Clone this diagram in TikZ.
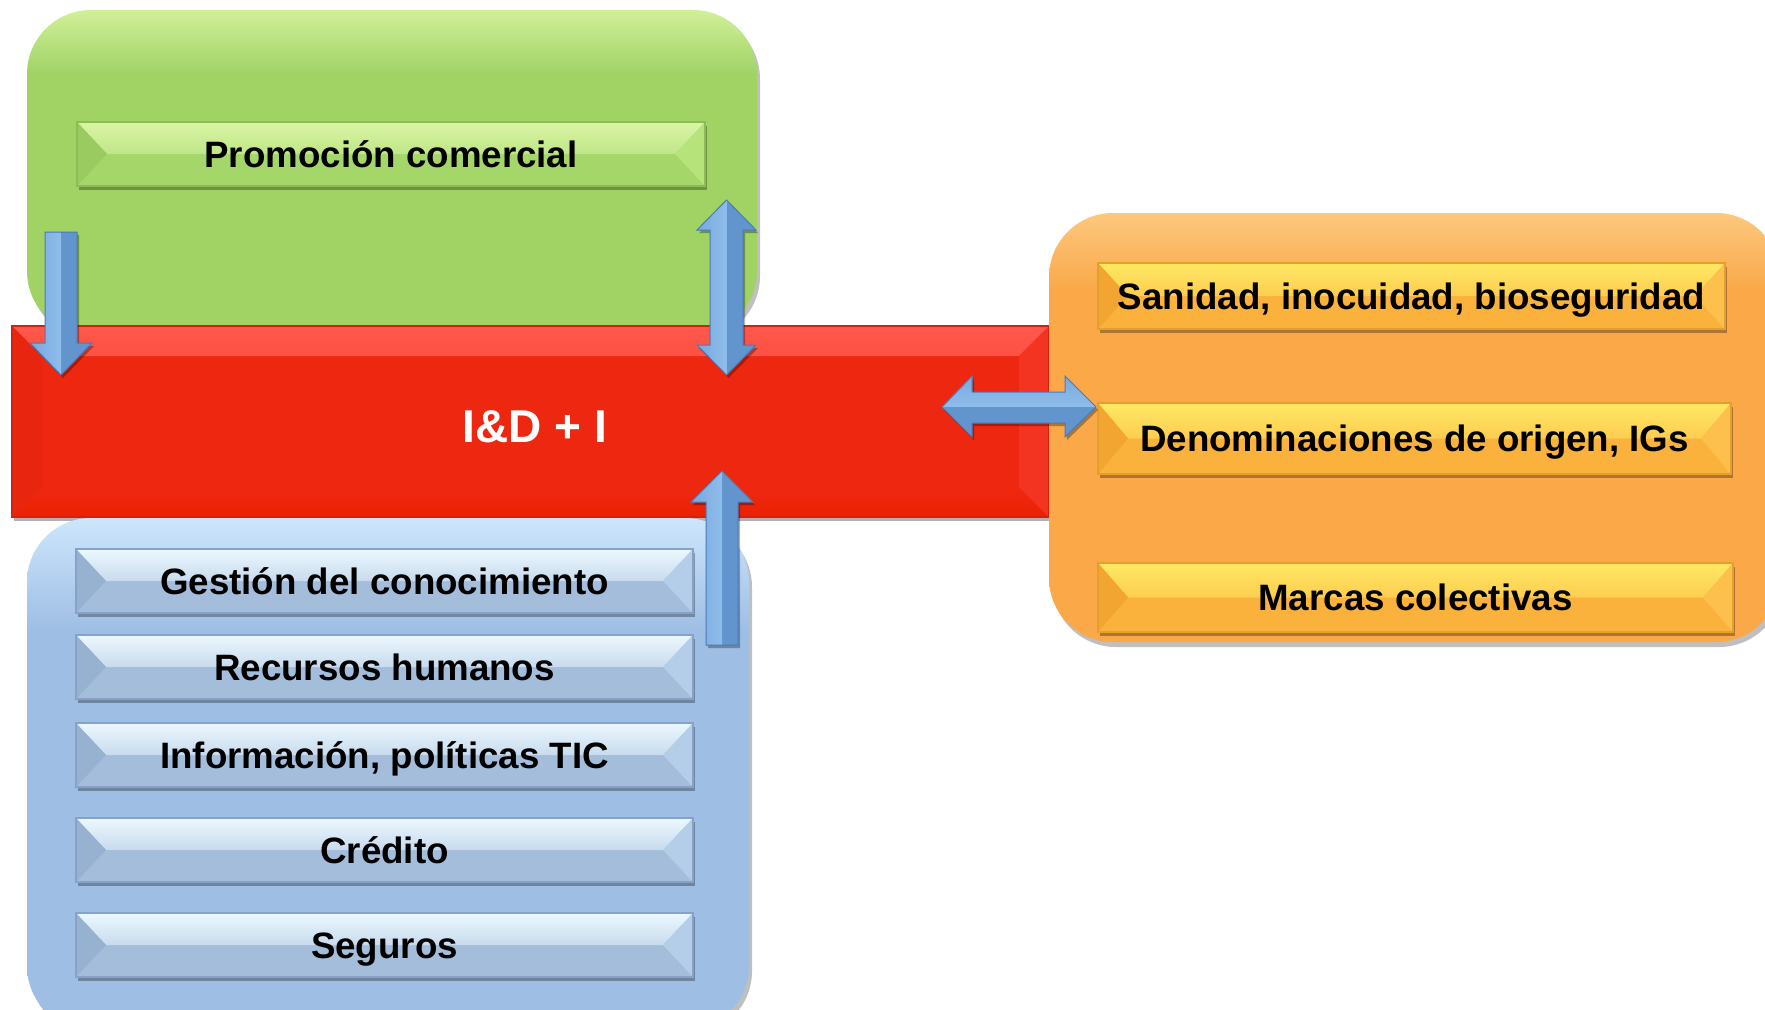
\documentclass[tikz,border=0pt]{standalone}
\usepackage{fontspec}
\setmainfont{Liberation Sans}
\usetikzlibrary{shadows,calc}
% big boxes
\definecolor{gBoxT}{RGB}{208,240,152}
\definecolor{gBox}{RGB}{160,210,100}
\definecolor{bBoxT}{RGB}{205,230,252}
\definecolor{bBox}{RGB}{158,190,228}
\definecolor{oBoxT}{RGB}{253,200,125}
\definecolor{oBox}{RGB}{250,168,72}
% bars
\definecolor{gbarL}{RGB}{218,245,165}
\definecolor{gbarB}{RGB}{165,214,105}
\definecolor{gbarD}{RGB}{153,203,96}
\definecolor{gbarE}{RGB}{182,227,122}
\definecolor{gbarR}{RGB}{140,188,88}
\definecolor{bbarL}{RGB}{236,248,255}
\definecolor{bbarB}{RGB}{163,189,219}
\definecolor{bbarD}{RGB}{151,177,209}
\definecolor{bbarE}{RGB}{180,205,232}
\definecolor{bbarR}{RGB}{135,162,200}
\definecolor{obarL}{RGB}{255,232,100}
\definecolor{obarB}{RGB}{251,178,60}
\definecolor{obarD}{RGB}{243,165,50}
\definecolor{obarE}{RGB}{253,192,76}
\definecolor{obarR}{RGB}{228,160,42}
% red
\definecolor{rT}{RGB}{255,88,76}
\definecolor{rB}{RGB}{238,40,16}
\definecolor{rBot}{RGB}{237,33,2}
\definecolor{rLf}{RGB}{232,38,15}
\definecolor{rRf}{RGB}{243,52,32}
\definecolor{rEdge}{RGB}{215,32,12}
% arrows
\definecolor{aL}{RGB}{165,210,248}
\definecolor{aM}{RGB}{120,168,222}
\definecolor{aD}{RGB}{98,148,206}
\definecolor{aR}{RGB}{75,122,184}
\pgfdeclareverticalshading{gboxsh}{100bp}{color(0bp)=(gBox); color(65bp)=(gBox); color(75bp)=(gBoxT); color(100bp)=(gBoxT)}
\pgfdeclareverticalshading{bboxsh}{100bp}{color(0bp)=(bBox); color(64bp)=(bBox); color(75bp)=(bBoxT); color(100bp)=(bBoxT)}
\pgfdeclareverticalshading{oboxsh}{100bp}{color(0bp)=(oBox); color(66bp)=(oBox); color(75bp)=(oBoxT); color(100bp)=(oBoxT)}
\tikzset{
  bigbox/.style={rounded corners=32pt,
    drop shadow={shadow xshift=1.5pt, shadow yshift=-2.5pt, opacity=0.25, fill=black}},
  barbox/.style={rectangle, inner sep=0pt, fill=#1barB, draw=#1barR, line width=0.6pt,
    drop shadow={shadow xshift=1pt, shadow yshift=-2pt, opacity=0.3, fill=black},
    font=\bfseries\fontsize{18.35}{22}\selectfont, text height=13.2pt, text depth=0pt,
    path picture={
      \fill[top color=#1barL, bottom color=#1barB]
        (path picture bounding box.north west) -- (path picture bounding box.north east)
        -- ($(path picture bounding box.east)+(-30,0)$) -- ($(path picture bounding box.west)+(30,0)$) -- cycle;
      \fill[#1barD] (path picture bounding box.north west) -- ($(path picture bounding box.west)+(30,0)$)
        -- (path picture bounding box.south west) -- cycle;
      \fill[#1barE] (path picture bounding box.north east) -- ($(path picture bounding box.east)+(-30,0)$)
        -- (path picture bounding box.south east) -- cycle;
    }},
  redbox/.style={rectangle, inner sep=0pt, fill=rB, draw=rEdge, line width=0.6pt,
    drop shadow={shadow xshift=1pt, shadow yshift=-2pt, opacity=0.3, fill=black},
    path picture={
      \fill[top color=rT, bottom color=rB]
        (path picture bounding box.north west) -- (path picture bounding box.north east)
        -- ($(path picture bounding box.north east)+(-30,30)$) -- ($(path picture bounding box.north west)+(30,30)$) -- cycle;
      \fill[top color=rB, bottom color=rBot]
        (path picture bounding box.south west) -- (path picture bounding box.south east)
        -- ($(path picture bounding box.south east)+(-30,-30)$) -- ($(path picture bounding box.south west)+(30,-30)$) -- cycle;
      \fill[rLf] (path picture bounding box.north west) -- ($(path picture bounding box.north west)+(30,30)$)
        -- ($(path picture bounding box.south west)+(30,-30)$) -- (path picture bounding box.south west) -- cycle;
      \fill[rRf] (path picture bounding box.north east) -- ($(path picture bounding box.north east)+(-30,30)$)
        -- ($(path picture bounding box.south east)+(-30,-30)$) -- (path picture bounding box.south east) -- cycle;
    }},
  blockarrow/.style={fill=aD, draw=aR, line width=0.5pt, line join=miter,
    drop shadow={shadow xshift=1pt, shadow yshift=-1.5pt, opacity=0.3, fill=black}},
  varrow/.style={blockarrow, path picture={
      \fill[left color=aM, right color=aL] (path picture bounding box.south west) rectangle (path picture bounding box.north);}},
  harrow/.style={blockarrow, path picture={
      \fill[top color=aM, bottom color=aL] (path picture bounding box.north west) rectangle (path picture bounding box.east);}},
}
\begin{document}
\begin{tikzpicture}[x=0.5pt,y=-0.5pt]
\useasboundingbox (0,0) rectangle (1765,1009);
\clip (0,0) rectangle (1765,1009);
% green group
\path[bigbox, shading=gboxsh] (27,10) rectangle (757,335);
\node[barbox=g, minimum width=314pt, minimum height=32pt] (promo) at (391,154) {Promoción comercial};
% red central bar
\node[redbox, minimum width=518.5pt, minimum height=95.5pt] (idi) at (530.5,421.5) {};
\node[text=white, font=\bfseries\fontsize{23}{28}\selectfont, text height=16.5pt, text depth=0pt] (iditxt) at (535,426) {I\&D + I};
% blue group
\path[bigbox, shading=bboxsh] (27,518) rectangle (749,1030);
\node[barbox=b, minimum width=308.5pt, minimum height=32pt] (gest) at (384.5,581) {Gestión del conocimiento};
\node[barbox=b, minimum width=308.5pt, minimum height=32pt] (recu) at (384.5,667) {Recursos humanos};
\node[barbox=b, minimum width=308.5pt, minimum height=32pt] (info) at (384.5,755) {Información, políticas TIC};
\node[barbox=b, minimum width=308.5pt, minimum height=32pt] (cred) at (384.5,850) {Crédito};
\node[barbox=b, minimum width=308.5pt, minimum height=32pt] (segu) at (384.5,945) {Seguros};
% orange group
\path[bigbox, shading=oboxsh] (1049,213) rectangle (1780,642);
\node[barbox=o, minimum width=313.5pt, minimum height=33pt] (sani) at (1411.5,296) {Sanidad, inocuidad, bioseguridad};
\node[barbox=o, minimum width=316.5pt, minimum height=35.5pt] (deno) at (1414.5,438.5) {Denominaciones de origen, IGs};
\node[barbox=o, minimum width=317.5pt, minimum height=34.5pt] (marc) at (1415.5,597.5) {Marcas colectivas};
% block arrows
\path[varrow]
  (45,232) -- (77,232) -- (77,343) -- (92,343) -- (61,375) -- (30,343) -- (45,343) -- cycle;
\path[varrow]
  (710,230) -- (697,230) -- (726.5,200) -- (756,230) -- (743,230) -- (743,345)
  -- (756,345) -- (726.5,375) -- (697,345) -- (710,345) -- cycle;
\path[varrow]
  (706,645) -- (706,502) -- (691,502) -- (722,471) -- (753,502) -- (738,502) -- (738,645) -- cycle;
\path[harrow]
  (972,392) -- (972,376) -- (942,407) -- (972,437) -- (972,423) -- (1065,423)
  -- (1065,437) -- (1096,407) -- (1065,376) -- (1065,392) -- cycle;
\end{tikzpicture}
\end{document}
